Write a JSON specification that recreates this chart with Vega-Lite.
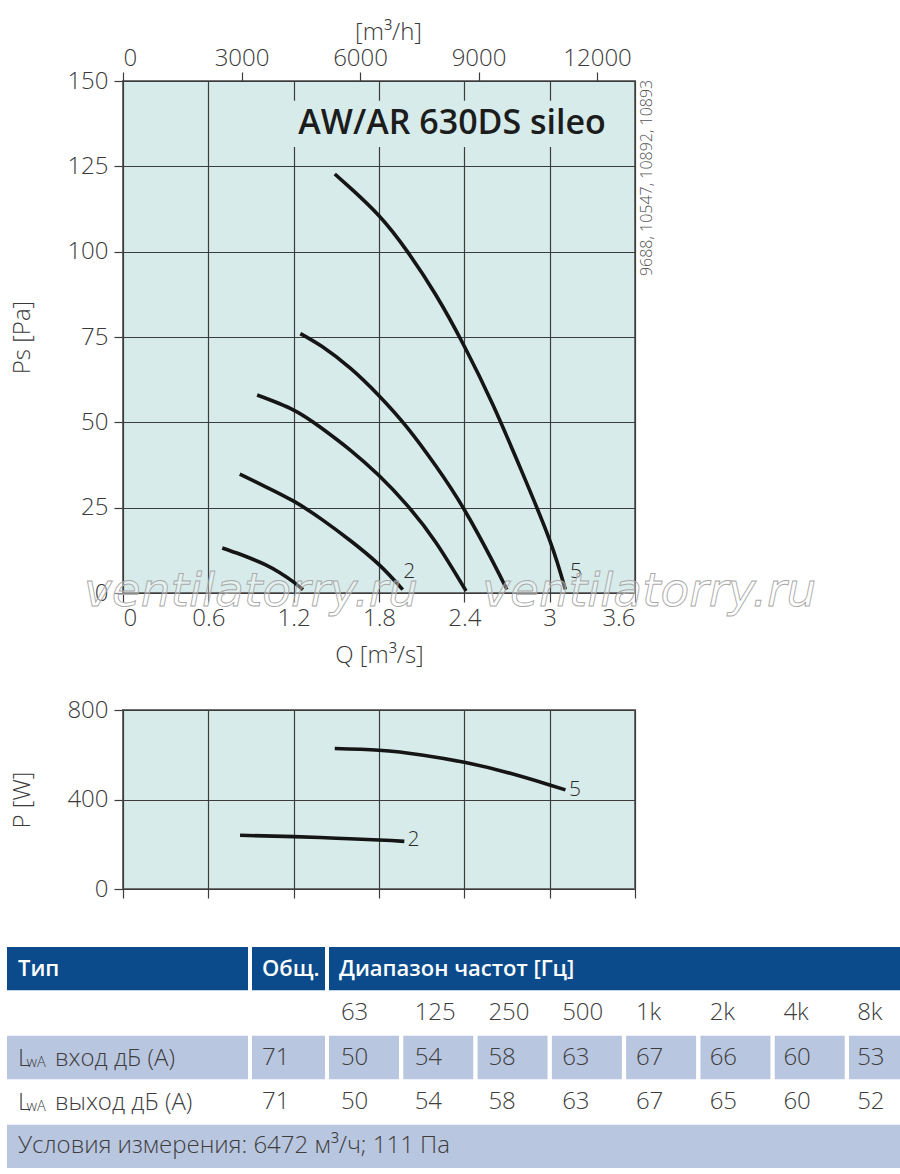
{
  "$schema": "https://vega.github.io/schema/vega-lite/v6.json",
  "padding": {"left": 7, "top": 19, "right": 0, "bottom": 6},
  "config": {
    "font": "Open Sans",
    "axis": {
      "labelFont": "Open Sans", "labelFontSize": 24, "labelColor": "#3a3a3a", "labelFontWeight": 300,
      "titleFont": "Open Sans", "titleFontSize": 24, "titleColor": "#3a3a3a", "titleFontWeight": 300,
      "gridColor": "#3c3c3c", "gridOpacity": 1, "gridWidth": 1.2,
      "tickColor": "#3c3c3c", "tickSize": 9, "tickWidth": 1.2,
      "domain": false, "labelPadding": 6
    },
    "view": {"stroke": "#707070", "strokeWidth": 2, "fill": "#d7ebea"}
  },
  "datasets": {
    "curves": [
      {"curve": "1", "q": 0.698, "ps": 13.2}, {"curve": "1", "q": 0.8, "ps": 11.7}, {"curve": "1", "q": 0.9, "ps": 10.1}, {"curve": "1", "q": 1.0, "ps": 8.3}, {"curve": "1", "q": 1.1, "ps": 6.0}, {"curve": "1", "q": 1.2, "ps": 3.2}, {"curve": "1", "q": 1.265, "ps": 1.0},
      {"curve": "2", "q": 0.821, "ps": 34.8}, {"curve": "2", "q": 1.0, "ps": 31.2}, {"curve": "2", "q": 1.2, "ps": 26.9}, {"curve": "2", "q": 1.4, "ps": 21.5}, {"curve": "2", "q": 1.6, "ps": 15.3}, {"curve": "2", "q": 1.8, "ps": 8.3}, {"curve": "2", "q": 1.967, "ps": 1.0},
      {"curve": "3", "q": 0.943, "ps": 58.0}, {"curve": "3", "q": 1.2, "ps": 53.6}, {"curve": "3", "q": 1.4, "ps": 48.2}, {"curve": "3", "q": 1.6, "ps": 41.8}, {"curve": "3", "q": 1.8, "ps": 34.4}, {"curve": "3", "q": 2.0, "ps": 25.6}, {"curve": "3", "q": 2.2, "ps": 14.8}, {"curve": "3", "q": 2.412, "ps": 0.6},
      {"curve": "4", "q": 1.247, "ps": 76.0}, {"curve": "4", "q": 1.4, "ps": 72.2}, {"curve": "4", "q": 1.6, "ps": 65.8}, {"curve": "4", "q": 1.8, "ps": 57.8}, {"curve": "4", "q": 2.0, "ps": 48.4}, {"curve": "4", "q": 2.2, "ps": 37.2}, {"curve": "4", "q": 2.4, "ps": 24.4}, {"curve": "4", "q": 2.6, "ps": 9.2}, {"curve": "4", "q": 2.699, "ps": 1.0},
      {"curve": "5", "q": 1.489, "ps": 122.75}, {"curve": "5", "q": 1.6, "ps": 118.6}, {"curve": "5", "q": 1.8, "ps": 110.5}, {"curve": "5", "q": 2.0, "ps": 100.0}, {"curve": "5", "q": 2.2, "ps": 87.3}, {"curve": "5", "q": 2.4, "ps": 72.3}, {"curve": "5", "q": 2.6, "ps": 55.2}, {"curve": "5", "q": 2.8, "ps": 36.0}, {"curve": "5", "q": 3.0, "ps": 15.5}, {"curve": "5", "q": 3.11, "ps": 1.0}
    ],
    "curveLabels": [
      {"label": "2", "q": 1.97, "ps": 6.2},
      {"label": "5", "q": 3.143, "ps": 6.2}
    ],
    "power": [
      {"curve": "2", "q": 0.823, "p": 240}, {"curve": "2", "q": 1.2, "p": 234}, {"curve": "2", "q": 1.5, "p": 227}, {"curve": "2", "q": 1.8, "p": 219}, {"curve": "2", "q": 1.978, "p": 213},
      {"curve": "5", "q": 1.489, "p": 628}, {"curve": "5", "q": 1.8, "p": 620}, {"curve": "5", "q": 2.1, "p": 599}, {"curve": "5", "q": 2.4, "p": 566}, {"curve": "5", "q": 2.7, "p": 521}, {"curve": "5", "q": 3.0, "p": 465}, {"curve": "5", "q": 3.111, "p": 443}
    ],
    "powerLabels": [
      {"label": "2", "q": 2.0, "p": 218},
      {"label": "5", "q": 3.136, "p": 442}
    ],
    "cells": [
      {"row": "h", "grp": "typ"}, {"row": "in", "grp": "typ"},
      {"row": "h", "grp": "obs"}, {"row": "in", "grp": "obs"},
      {"row": "h", "grp": "band"},
      {"row": "in", "grp": "freq", "col": "63"}, {"row": "in", "grp": "freq", "col": "125"}, {"row": "in", "grp": "freq", "col": "250"}, {"row": "in", "grp": "freq", "col": "500"},
      {"row": "in", "grp": "freq", "col": "1k"}, {"row": "in", "grp": "freq", "col": "2k"}, {"row": "in", "grp": "freq", "col": "4k"}, {"row": "in", "grp": "freq", "col": "8k"},
      {"row": "c", "grp": "all"}
    ],
    "table": [
      {"row": "h", "grp": "typ", "text": "Тип"},
      {"row": "h", "grp": "obs", "text": "Общ."},
      {"row": "h", "grp": "band", "text": "Диапазон частот [Гц]"},
      {"row": "f", "grp": "freq", "col": "63", "text": "63"}, {"row": "f", "grp": "freq", "col": "125", "text": "125"}, {"row": "f", "grp": "freq", "col": "250", "text": "250"}, {"row": "f", "grp": "freq", "col": "500", "text": "500"},
      {"row": "f", "grp": "freq", "col": "1k", "text": "1k"}, {"row": "f", "grp": "freq", "col": "2k", "text": "2k"}, {"row": "f", "grp": "freq", "col": "4k", "text": "4k"}, {"row": "f", "grp": "freq", "col": "8k", "text": "8k"},
      {"row": "in", "grp": "typ", "sym": "L", "sub": "wA", "text": "вход дБ (А)"},
      {"row": "in", "grp": "obs", "text": "71"},
      {"row": "in", "grp": "freq", "col": "63", "text": "50"}, {"row": "in", "grp": "freq", "col": "125", "text": "54"}, {"row": "in", "grp": "freq", "col": "250", "text": "58"}, {"row": "in", "grp": "freq", "col": "500", "text": "63"},
      {"row": "in", "grp": "freq", "col": "1k", "text": "67"}, {"row": "in", "grp": "freq", "col": "2k", "text": "66"}, {"row": "in", "grp": "freq", "col": "4k", "text": "60"}, {"row": "in", "grp": "freq", "col": "8k", "text": "53"},
      {"row": "out", "grp": "typ", "sym": "L", "sub": "wA", "text": "выход дБ (А)"},
      {"row": "out", "grp": "obs", "text": "71"},
      {"row": "out", "grp": "freq", "col": "63", "text": "50"}, {"row": "out", "grp": "freq", "col": "125", "text": "54"}, {"row": "out", "grp": "freq", "col": "250", "text": "58"}, {"row": "out", "grp": "freq", "col": "500", "text": "63"},
      {"row": "out", "grp": "freq", "col": "1k", "text": "67"}, {"row": "out", "grp": "freq", "col": "2k", "text": "65"}, {"row": "out", "grp": "freq", "col": "4k", "text": "60"}, {"row": "out", "grp": "freq", "col": "8k", "text": "52"},
      {"row": "c", "grp": "all", "text": "Условия измерения: 6472 м³/ч; 111 Па"}
    ]
  },
  "spacing": 29,
  "vconcat": [
    {
      "width": 512,
      "height": 512,
      "resolve": {"axis": {"x": "independent"}},
      "layer": [
        {
          "data": {"values": [{"item": "title box"}]},
          "mark": {"type": "rect", "fill": "#d7ebea"},
          "encoding": {
            "x": {"datum": 1.17, "type": "quantitative",
              "axis": {"orient": "top", "values": [0, 0.833333, 1.666667, 2.5, 3.333333],
                "labelExpr": "format(round(datum.value*36)*100, 'd')",
                "grid": false, "tickSize": 9, "labelPadding": 2,
                "title": "[m³/h]", "titleY": -49, "titleX": 265, "titleBaseline": "middle"}},
            "x2": {"datum": 3.46},
            "y": {"datum": 130.7, "type": "quantitative"},
            "y2": {"datum": 144.2}
          }
        },
        {
          "data": {"name": "curves"},
          "mark": {"type": "line", "color": "#151515", "strokeWidth": 3.6, "interpolate": "natural", "strokeCap": "butt"},
          "encoding": {
            "x": {"field": "q", "type": "quantitative", "scale": {"domain": [0, 3.6], "nice": false, "zero": false},
              "axis": {"orient": "bottom", "values": [0, 0.6, 1.2, 1.8, 2.4, 3, 3.6], "format": "~g", "grid": true,
                "labelPadding": 4, "title": "Q [m³/s]", "titleY": 62, "titleBaseline": "middle"}},
            "y": {"field": "ps", "type": "quantitative", "scale": {"domain": [0, 150], "nice": false},
              "axis": {"values": [0, 25, 50, 75, 100, 125, 150], "grid": true, "title": "Ps [Pa]",
                "titleX": -101, "titleY": 256, "titleAngle": 270, "titleAlign": "center", "titleBaseline": "middle"}},
            "detail": {"field": "curve", "type": "nominal"}
          }
        },
        {
          "data": {"name": "curveLabels"},
          "mark": {"type": "text", "align": "left", "baseline": "middle", "fontSize": 21, "fontWeight": 300, "color": "#2a2a2a"},
          "encoding": {
            "x": {"field": "q", "type": "quantitative", "axis": null},
            "y": {"field": "ps", "type": "quantitative"},
            "text": {"field": "label"}
          }
        },
        {
          "data": {"values": [{"title": "AW/AR 630DS sileo"}]},
          "mark": {"type": "text", "align": "center", "baseline": "middle", "fontSize": 34, "fontWeight": 600, "color": "#1c1c1c"},
          "encoding": {
            "x": {"datum": 2.314, "type": "quantitative", "axis": null},
            "y": {"datum": 137.4, "type": "quantitative"},
            "text": {"field": "title"}
          }
        },
        {
          "data": {"values": [{"codes": "9688, 10547, 10892, 10893"}]},
          "mark": {"type": "text", "align": "center", "baseline": "middle", "angle": 270, "fontSize": 16, "fontWeight": 300, "color": "#555555"},
          "encoding": {
            "x": {"datum": 3.685, "type": "quantitative", "axis": null},
            "y": {"datum": 121.6, "type": "quantitative"},
            "text": {"field": "codes"}
          }
        },
        {
          "data": {"values": [{"mark": "ventilatorry.ru", "q": 0.9}, {"mark": "ventilatorry.ru", "q": 3.7}]},
          "mark": {"type": "text", "align": "center", "baseline": "middle", "font": "DejaVu Sans", "fontStyle": "italic", "fontSize": 47,
            "fill": "#ffffff", "fillOpacity": 0.35, "stroke": "#a8a8a8", "strokeWidth": 0.9},
          "encoding": {
            "x": {"field": "q", "type": "quantitative", "axis": null},
            "y": {"datum": 0.3, "type": "quantitative"},
            "text": {"field": "mark"}
          }
        }
      ]
    },
    {
      "spacing": 44,
      "vconcat": [
        {
          "width": 512,
          "height": 179,
          "layer": [
            {
              "data": {"name": "power"},
              "mark": {"type": "line", "color": "#151515", "strokeWidth": 3.6, "interpolate": "natural", "strokeCap": "butt"},
              "encoding": {
                "x": {"field": "q", "type": "quantitative", "scale": {"domain": [0, 3.6], "nice": false, "zero": false},
                  "axis": {"values": [0, 0.6, 1.2, 1.8, 2.4, 3, 3.6], "labels": false, "grid": true, "title": null}},
                "y": {"field": "p", "type": "quantitative", "scale": {"domain": [0, 800], "nice": false},
                  "axis": {"values": [0, 400, 800], "grid": true, "title": "P [W]",
                    "titleX": -101, "titleY": 89.5, "titleAngle": 270, "titleAlign": "center", "titleBaseline": "middle"}},
                "detail": {"field": "curve", "type": "nominal"}
              }
            },
            {
              "data": {"name": "powerLabels"},
              "mark": {"type": "text", "align": "left", "baseline": "middle", "fontSize": 21, "fontWeight": 300, "color": "#2a2a2a"},
              "encoding": {
                "x": {"field": "q", "type": "quantitative"},
                "y": {"field": "p", "type": "quantitative"},
                "text": {"field": "label"}
              }
            }
          ]
        },
        {
          "width": 777,
          "height": 221,
          "view": {"stroke": null, "fill": null},
          "resolve": {"scale": {"x": "independent"}},
          "encoding": {
            "y": {"field": "row", "type": "nominal", "scale": {"domain": ["h", "f", "in", "out", "c"], "paddingInner": 0.025, "paddingOuter": 0}, "axis": null}
          },
          "layer": [
            {
              "data": {"name": "cells"},
              "transform": [{"filter": "datum.grp === 'typ'"}],
              "mark": {"type": "rect"},
              "encoding": {
                "x": {"field": "grp", "type": "nominal", "scale": {"domain": ["typ"], "range": [-116, 125], "paddingInner": 0, "paddingOuter": 0}, "axis": null},
                "color": {"field": "row", "type": "nominal", "scale": {"domain": ["h", "in", "c"], "range": ["#0b4b8c", "#b9c6df", "#b9c6df"]}, "legend": null}
              }
            },
            {
              "data": {"name": "cells"},
              "transform": [{"filter": "datum.grp === 'obs'"}],
              "mark": {"type": "rect"},
              "encoding": {
                "x": {"field": "grp", "type": "nominal", "scale": {"domain": ["obs"], "range": [129, 202], "paddingInner": 0, "paddingOuter": 0}, "axis": null},
                "color": {"field": "row", "type": "nominal", "legend": null}
              }
            },
            {
              "data": {"name": "cells"},
              "transform": [{"filter": "datum.grp === 'band'"}],
              "mark": {"type": "rect"},
              "encoding": {
                "x": {"field": "grp", "type": "nominal", "scale": {"domain": ["band"], "range": [206, 777], "paddingInner": 0, "paddingOuter": 0}, "axis": null},
                "color": {"field": "row", "type": "nominal", "legend": null}
              }
            },
            {
              "data": {"name": "cells"},
              "transform": [{"filter": "datum.grp === 'freq'"}],
              "mark": {"type": "rect", "clip": true},
              "encoding": {
                "x": {"field": "col", "type": "nominal", "scale": {"domain": ["63", "125", "250", "500", "1k", "2k", "4k", "8k"], "range": [206, 796], "paddingInner": 0.058, "paddingOuter": 0}, "axis": null},
                "color": {"field": "row", "type": "nominal", "legend": null}
              }
            },
            {
              "data": {"name": "cells"},
              "transform": [{"filter": "datum.grp === 'all'"}],
              "mark": {"type": "rect"},
              "encoding": {
                "x": {"field": "grp", "type": "nominal", "scale": {"domain": ["all"], "range": [-116, 777], "paddingInner": 0, "paddingOuter": 0}, "axis": null},
                "color": {"field": "row", "type": "nominal", "legend": null}
              }
            },
            {
              "data": {"name": "table"},
              "transform": [{"filter": "datum.grp === 'typ' && datum.row === 'h'"}],
              "mark": {"type": "text", "align": "left", "baseline": "middle", "dx": -109.5, "fontSize": 22, "fontWeight": 600, "color": "#ffffff"},
              "encoding": {
                "x": {"field": "grp", "type": "nominal", "scale": {"domain": ["typ"], "range": [-116, 125], "paddingInner": 0, "paddingOuter": 0}, "axis": null},
                "text": {"field": "text"}
              }
            },
            {
              "data": {"name": "table"},
              "transform": [{"filter": "datum.grp === 'obs' && datum.row === 'h'"}],
              "mark": {"type": "text", "align": "left", "baseline": "middle", "dx": -26.5, "fontSize": 22, "fontWeight": 600, "color": "#ffffff"},
              "encoding": {
                "x": {"field": "grp", "type": "nominal", "scale": {"domain": ["obs"], "range": [129, 202], "paddingInner": 0, "paddingOuter": 0}, "axis": null},
                "text": {"field": "text"}
              }
            },
            {
              "data": {"name": "table"},
              "transform": [{"filter": "datum.grp === 'band'"}],
              "mark": {"type": "text", "align": "left", "baseline": "middle", "dx": -275.5, "fontSize": 22, "fontWeight": 600, "color": "#ffffff"},
              "encoding": {
                "x": {"field": "grp", "type": "nominal", "scale": {"domain": ["band"], "range": [206, 777], "paddingInner": 0, "paddingOuter": 0}, "axis": null},
                "text": {"field": "text"}
              }
            },
            {
              "data": {"name": "table"},
              "transform": [{"filter": "datum.grp === 'typ' && datum.row !== 'h'"}],
              "mark": {"type": "text", "align": "left", "baseline": "alphabetic", "dx": -109.5, "dy": 8, "fontSize": 24, "fontWeight": 300, "color": "#3d3d3d"},
              "encoding": {
                "x": {"field": "grp", "type": "nominal", "scale": {"domain": ["typ"], "range": [-116, 125], "paddingInner": 0, "paddingOuter": 0}, "axis": null},
                "text": {"field": "sym"}
              }
            },
            {
              "data": {"name": "table"},
              "transform": [{"filter": "datum.grp === 'typ' && datum.row !== 'h'"}],
              "mark": {"type": "text", "align": "left", "baseline": "alphabetic", "dx": -101, "dy": 9, "fontSize": 14.5, "fontWeight": 300, "color": "#3d3d3d"},
              "encoding": {
                "x": {"field": "grp", "type": "nominal", "scale": {"domain": ["typ"], "range": [-116, 125], "paddingInner": 0, "paddingOuter": 0}, "axis": null},
                "text": {"field": "sub"}
              }
            },
            {
              "data": {"name": "table"},
              "transform": [{"filter": "datum.grp === 'typ' && datum.row !== 'h'"}],
              "mark": {"type": "text", "align": "left", "baseline": "alphabetic", "dx": -72.5, "dy": 8, "fontSize": 24, "fontWeight": 300, "color": "#3d3d3d"},
              "encoding": {
                "x": {"field": "grp", "type": "nominal", "scale": {"domain": ["typ"], "range": [-116, 125], "paddingInner": 0, "paddingOuter": 0}, "axis": null},
                "text": {"field": "text"}
              }
            },
            {
              "data": {"name": "table"},
              "transform": [{"filter": "datum.grp === 'obs' && datum.row !== 'h'"}],
              "mark": {"type": "text", "align": "left", "baseline": "middle", "dx": -26.5, "fontSize": 24, "fontWeight": 300, "color": "#3d3d3d"},
              "encoding": {
                "x": {"field": "grp", "type": "nominal", "scale": {"domain": ["obs"], "range": [129, 202], "paddingInner": 0, "paddingOuter": 0}, "axis": null},
                "text": {"field": "text"}
              }
            },
            {
              "data": {"name": "table"},
              "transform": [{"filter": "datum.grp === 'freq'"}],
              "mark": {"type": "text", "align": "left", "baseline": "middle", "dx": -25, "fontSize": 24, "fontWeight": 300, "color": "#3d3d3d"},
              "encoding": {
                "x": {"field": "col", "type": "nominal", "scale": {"domain": ["63", "125", "250", "500", "1k", "2k", "4k", "8k"], "range": [206, 796], "paddingInner": 0.058, "paddingOuter": 0}, "axis": null},
                "text": {"field": "text"}
              }
            },
            {
              "data": {"name": "table"},
              "transform": [{"filter": "datum.grp === 'all'"}],
              "mark": {"type": "text", "align": "left", "baseline": "middle", "dx": -435.5, "fontSize": 24, "fontWeight": 300, "color": "#3d3d3d"},
              "encoding": {
                "x": {"field": "grp", "type": "nominal", "scale": {"domain": ["all"], "range": [-116, 777], "paddingInner": 0, "paddingOuter": 0}, "axis": null},
                "text": {"field": "text"}
              }
            }
          ]
        }
      ]
    }
  ]
}
